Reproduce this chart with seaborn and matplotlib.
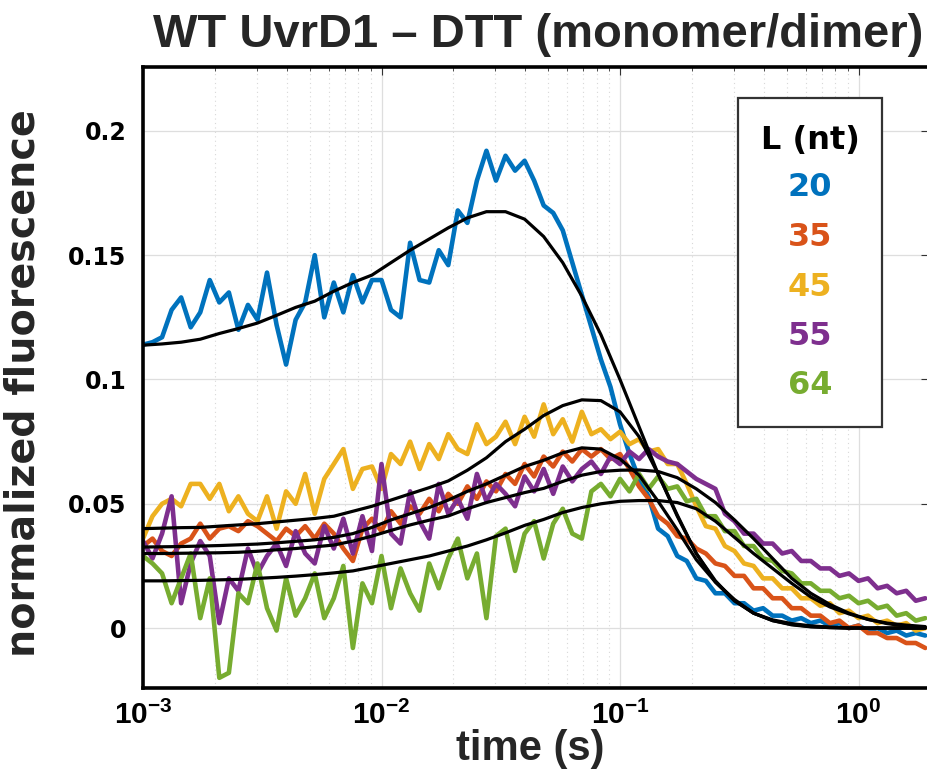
import numpy as np
import pandas as pd
import matplotlib
matplotlib.use("Agg")
import matplotlib.pyplot as plt
import seaborn as sns
from matplotlib import font_manager as fm
from matplotlib.ticker import FixedLocator, FuncFormatter, NullFormatter
from matplotlib.patches import Rectangle

# ---------------- data ----------------
time_s = [0.001000, 0.001096, 0.001202, 0.001318, 0.001445, 0.001585, 0.001738, 0.001905, 0.002089, 0.002291,
          0.002512, 0.002754, 0.003020, 0.003311, 0.003631, 0.003981, 0.004365, 0.004786, 0.005248, 0.005754,
          0.006310, 0.006918, 0.007586, 0.008318, 0.009120, 0.01000, 0.01096, 0.01202, 0.01318, 0.01445,
          0.01585, 0.01738, 0.01905, 0.02089, 0.02291, 0.02512, 0.02754, 0.03020, 0.03311, 0.03631,
          0.03981, 0.04365, 0.04786, 0.05248, 0.05754, 0.06310, 0.06918, 0.07586, 0.08318, 0.09120,
          0.1000, 0.1096, 0.1202, 0.1318, 0.1445, 0.1585, 0.1738, 0.1905, 0.2089, 0.2291,
          0.2512, 0.2754, 0.3020, 0.3311, 0.3631, 0.3981, 0.4365, 0.4786, 0.5248, 0.5754,
          0.6310, 0.6918, 0.7586, 0.8318, 0.9120, 1.000, 1.096, 1.202, 1.318, 1.445,
          1.585, 1.738, 1.905]

lengths = ["20", "35", "45", "55", "64"]
colors = ["#0072BD", "#D95319", "#EDB120", "#7E2F8E", "#77AC30"]

sig_20 = [0.114, 0.115, 0.117, 0.128, 0.133, 0.121, 0.127, 0.140, 0.131, 0.135,
          0.120, 0.130, 0.124, 0.143, 0.122, 0.106, 0.124, 0.131, 0.150, 0.125,
          0.139, 0.127, 0.142, 0.131, 0.140, 0.140, 0.128, 0.125, 0.155, 0.140,
          0.139, 0.152, 0.146, 0.168, 0.163, 0.180, 0.192, 0.180, 0.190, 0.184,
          0.188, 0.180, 0.170, 0.167, 0.160, 0.147, 0.134, 0.121, 0.108, 0.097,
          0.082, 0.070, 0.060, 0.053, 0.040, 0.037, 0.029, 0.027, 0.020, 0.019,
          0.014, 0.014, 0.010, 0.010, 0.007, 0.008, 0.005, 0.005, 0.003, 0.004,
          0.002, 0.003, 0.001, 0.002, 0.000, 0.001, -0.001, 0.000, -0.002, -0.001,
          -0.003, -0.002, -0.003]
sig_35 = [0.033, 0.036, 0.031, 0.029, 0.034, 0.036, 0.042, 0.036, 0.040, 0.041,
          0.039, 0.043, 0.041, 0.038, 0.035, 0.040, 0.037, 0.041, 0.036, 0.042,
          0.038, 0.032, 0.027, 0.040, 0.044, 0.039, 0.047, 0.042, 0.049, 0.046,
          0.052, 0.047, 0.054, 0.050, 0.057, 0.052, 0.059, 0.055, 0.062, 0.058,
          0.066, 0.061, 0.069, 0.065, 0.071, 0.067, 0.072, 0.069, 0.072, 0.068,
          0.070, 0.064, 0.057, 0.052, 0.045, 0.042, 0.037, 0.036, 0.032, 0.030,
          0.026, 0.025, 0.021, 0.021, 0.016, 0.016, 0.012, 0.012, 0.008, 0.008,
          0.005, 0.005, 0.002, 0.003, 0.000, 0.001, -0.002, -0.002, -0.004, -0.004,
          -0.006, -0.006, -0.008]
sig_45 = [0.036, 0.045, 0.050, 0.052, 0.049, 0.058, 0.058, 0.052, 0.058, 0.047,
          0.053, 0.046, 0.043, 0.053, 0.040, 0.055, 0.050, 0.062, 0.046, 0.060,
          0.066, 0.072, 0.056, 0.064, 0.065, 0.056, 0.070, 0.066, 0.075, 0.064,
          0.074, 0.068, 0.078, 0.072, 0.070, 0.082, 0.074, 0.077, 0.083, 0.074,
          0.085, 0.077, 0.090, 0.078, 0.084, 0.075, 0.087, 0.078, 0.080, 0.076,
          0.079, 0.074, 0.076, 0.071, 0.072, 0.066, 0.066, 0.058, 0.049, 0.041,
          0.040, 0.033, 0.031, 0.026, 0.025, 0.020, 0.020, 0.016, 0.016, 0.012,
          0.012, 0.009, 0.010, 0.006, 0.007, 0.004, 0.005, 0.002, 0.003, 0.001,
          0.002, -0.001, 0.000]
sig_55 = [0.035, 0.028, 0.038, 0.053, 0.010, 0.026, 0.035, 0.029, 0.002, 0.020,
          0.015, 0.032, 0.022, 0.029, 0.034, 0.025, 0.039, 0.030, 0.026, 0.041,
          0.032, 0.044, 0.030, 0.045, 0.031, 0.066, 0.038, 0.034, 0.055, 0.043,
          0.036, 0.058, 0.046, 0.052, 0.044, 0.062, 0.051, 0.058, 0.054, 0.049,
          0.061, 0.055, 0.064, 0.054, 0.065, 0.059, 0.064, 0.067, 0.062, 0.069,
          0.066, 0.071, 0.068, 0.072, 0.069, 0.067, 0.066, 0.063, 0.060, 0.058,
          0.056, 0.046, 0.043, 0.038, 0.038, 0.034, 0.034, 0.030, 0.031, 0.027,
          0.027, 0.024, 0.024, 0.021, 0.022, 0.019, 0.020, 0.016, 0.017, 0.014,
          0.015, 0.011, 0.012]
sig_64 = [0.029, 0.026, 0.022, 0.010, 0.020, 0.030, 0.004, 0.020, -0.020, -0.018,
          0.014, 0.010, 0.026, 0.008, -0.001, 0.020, 0.005, 0.012, 0.022, 0.004,
          0.012, 0.025, -0.008, 0.018, 0.010, 0.029, 0.008, 0.024, 0.014, 0.007,
          0.026, 0.016, 0.028, 0.036, 0.020, 0.030, 0.004, 0.037, 0.040, 0.023,
          0.038, 0.043, 0.028, 0.042, 0.048, 0.038, 0.036, 0.055, 0.058, 0.053,
          0.060, 0.055, 0.062, 0.056, 0.061, 0.056, 0.057, 0.051, 0.052, 0.045,
          0.045, 0.039, 0.039, 0.033, 0.033, 0.028, 0.027, 0.023, 0.022, 0.018,
          0.018, 0.015, 0.015, 0.012, 0.013, 0.010, 0.011, 0.008, 0.009, 0.005,
          0.006, 0.003, 0.004]

fit_time_s = time_s[::2]
fit_20 = [0.1138, 0.1143, 0.1150, 0.1162, 0.1185, 0.1205, 0.1227, 0.1258, 0.1290, 0.1315,
          0.1355, 0.1390, 0.1420, 0.1470, 0.1520, 0.1565, 0.1610, 0.1650, 0.1675, 0.1675,
          0.1645, 0.1575, 0.1470, 0.1335, 0.1180, 0.1000, 0.0810, 0.0620, 0.0450, 0.0300,
          0.0190, 0.0110, 0.0060, 0.0030, 0.0013, 0.0005, 0.0002, 0.0, 0.0, 0.0, 0.0, 0.0]
fit_35 = [0.0326, 0.0327, 0.0328, 0.0330, 0.0332, 0.0335, 0.0338, 0.0343, 0.0349, 0.0355,
          0.0365, 0.0380, 0.0405, 0.0435, 0.0460, 0.0485, 0.0515, 0.0550, 0.0580, 0.0615,
          0.0650, 0.0675, 0.0705, 0.0725, 0.0720, 0.0680, 0.0615, 0.0510, 0.0395, 0.0275,
          0.0185, 0.0115, 0.0060, 0.0030, 0.0015, 0.0006, 0.0002, 0.0, 0.0, 0.0, 0.0, 0.0]
fit_45 = [0.0400, 0.0402, 0.0404, 0.0405, 0.0410, 0.0415, 0.0420, 0.0427, 0.0434, 0.0441,
          0.0450, 0.0470, 0.0490, 0.0515, 0.0540, 0.0565, 0.0592, 0.0635, 0.0685, 0.0750,
          0.0800, 0.0855, 0.0895, 0.0918, 0.0915, 0.0870, 0.0770, 0.0620, 0.0455, 0.0300,
          0.0185, 0.0110, 0.0060, 0.0033, 0.0018, 0.0009, 0.0004, 0.0001, 0.0, 0.0, 0.0, 0.0]
fit_55 = [0.0300, 0.0300, 0.0301, 0.0302, 0.0303, 0.0305, 0.0309, 0.0315, 0.0320, 0.0327,
          0.0334, 0.0350, 0.0370, 0.0393, 0.0415, 0.0434, 0.0451, 0.0480, 0.0505, 0.0525,
          0.0545, 0.0562, 0.0590, 0.0615, 0.0630, 0.0635, 0.0636, 0.0630, 0.0605, 0.0560,
          0.0505, 0.0435, 0.0360, 0.0280, 0.0200, 0.0140, 0.0095, 0.0060, 0.0035, 0.0018,
          0.0008, 0.0003]
fit_64 = [0.0190, 0.0190, 0.0191, 0.0192, 0.0194, 0.0196, 0.0200, 0.0204, 0.0209, 0.0215,
          0.0222, 0.0230, 0.0245, 0.0260, 0.0275, 0.0290, 0.0310, 0.0330, 0.0355, 0.0383,
          0.0413, 0.0437, 0.0465, 0.0485, 0.0500, 0.0510, 0.0513, 0.0513, 0.0505, 0.0480,
          0.0430, 0.0365, 0.0300, 0.0240, 0.0180, 0.0125, 0.0085, 0.0057, 0.0035, 0.0020,
          0.0012, 0.0006]

yticks = [0, 0.05, 0.1, 0.15, 0.2]
ytick_labels = ["0", "0.05", "0.1", "0.15", "0.2"]
xticks = [1e-3, 1e-2, 1e-1, 1e0]
xtick_labels = [r"$\mathbf{10^{-3}}$", r"$\mathbf{10^{-2}}$", r"$\mathbf{10^{-1}}$", r"$\mathbf{10^{0}}$"]

signals = [sig_20, sig_35, sig_45, sig_55, sig_64]
fits = [fit_20, fit_35, fit_45, fit_55, fit_64]

sig_df = pd.concat([pd.DataFrame({"time": time_s, "value": s, "L": L})
                    for s, L in zip(signals, lengths)], ignore_index=True)
fit_df = pd.concat([pd.DataFrame({"time": fit_time_s, "value": f, "L": L})
                    for f, L in zip(fits, lengths)], ignore_index=True)

# ---------------- style ----------------
sns.set_theme(style="white")
names = {f.name for f in fm.fontManager.ttflist}
narrow = "Liberation Sans Narrow" if "Liberation Sans Narrow" in names else "Liberation Sans"
narrow_scale = 1.0 if narrow == "Liberation Sans Narrow" else 0.86
plt.rcParams["font.family"] = ["DejaVu Sans"]
plt.rcParams["mathtext.fontset"] = "custom"
plt.rcParams["mathtext.bf"] = f"{narrow}:bold"
plt.rcParams["mathtext.rm"] = f"{narrow}:bold"
plt.rcParams["mathtext.default"] = "bf"

W, H = 927, 773
fig = plt.figure(figsize=(W / 100, H / 100), dpi=100)
ax_l, ax_r, ax_t, ax_b = 143, 929, 67, 688
ax = fig.add_axes([ax_l / W, 1 - ax_b / H, (ax_r - ax_l) / W, (ax_b - ax_t) / H])

sns.lineplot(data=sig_df, x="time", y="value", hue="L", palette=colors, hue_order=lengths,
             estimator=None, sort=False, linewidth=3.3, legend=False, ax=ax)
sns.lineplot(data=fit_df, x="time", y="value", units="L", estimator=None, sort=False,
             color="black", linewidth=2.3, legend=False, ax=ax)

ax.set_xscale("log")
ax.set_xlim(1e-3, 1.975)
ax.set_ylim(-0.0241, 0.2257)
ax.set_xlabel("")
ax.set_ylabel("")

ax.xaxis.set_major_locator(FixedLocator(xticks))
ax.xaxis.set_major_formatter(FuncFormatter(lambda v, p: xtick_labels[xticks.index(v)] if v in xticks else ""))
minor = [m * 10.0 ** e for e in range(-3, 1) for m in range(2, 10)]
ax.xaxis.set_minor_locator(FixedLocator(minor))
ax.xaxis.set_minor_formatter(NullFormatter())
ax.set_yticks(yticks)
ax.set_yticklabels(ytick_labels)

ax.grid(which="major", axis="both", color="#dedede", linewidth=0.9, linestyle="-")
ax.grid(which="minor", axis="x", color="#d8d8d8", linewidth=0.8, linestyle=(0, (1, 3)))
ax.set_axisbelow(True)

ax.tick_params(which="both", direction="in", top=True, right=True, colors="#333333")
ax.tick_params(which="major", length=6, width=0.8)
ax.tick_params(which="minor", length=3, width=0.6)
ax.tick_params(axis="y", labelsize=17, pad=12, labelcolor="black")
ax.tick_params(axis="x", labelsize=25 * narrow_scale, pad=9, labelcolor="black")
for lab in ax.get_yticklabels():
    lab.set_fontweight("bold")
for sp in ax.spines.values():
    sp.set_linewidth(2.6)
    sp.set_color("black")

# texts
fig.text(538 / W, 1 - 35 / H, "WT UvrD1 \u2013 DTT (monomer/dimer)", ha="center", va="center",
         fontsize=39.5 * narrow_scale, fontweight="bold", family=narrow)
fig.text(530 / W, 1 - 749 / H, "time (s)", ha="center", va="center",
         fontsize=35 * narrow_scale, fontweight="bold", family=narrow)
fig.text(24 / W, 1 - 383 / H, "normalized fluorescence", ha="center", va="center",
         rotation=90, fontsize=28.5, fontweight="bold")

# legend box
aw = ax_r - ax_l
ah = ax_b - ax_t
def ax_xy(px, py):
    return (px - ax_l) / aw, (ax_b - py) / ah
x0, y0 = ax_xy(738, 427)
x1, y1 = ax_xy(882, 98)
ax.add_patch(Rectangle((x0, y0), x1 - x0, y1 - y0, transform=ax.transAxes,
                       facecolor="white", edgecolor="#333333", linewidth=1.6, zorder=5))
cx, cy = ax_xy(810, 140)
ax.text(cx, cy, "L (nt)", transform=ax.transAxes, ha="center", va="center",
        fontsize=23, fontweight="bold", color="black", zorder=6)
for i, (L, c) in enumerate(zip(lengths, colors)):
    _, yy = ax_xy(810, 188 + 49.5 * i)
    ax.text(cx, yy, L, transform=ax.transAxes, ha="center", va="center",
            fontsize=23, fontweight="bold", color=c, zorder=6)

fig.savefig("out.png", dpi=100)
